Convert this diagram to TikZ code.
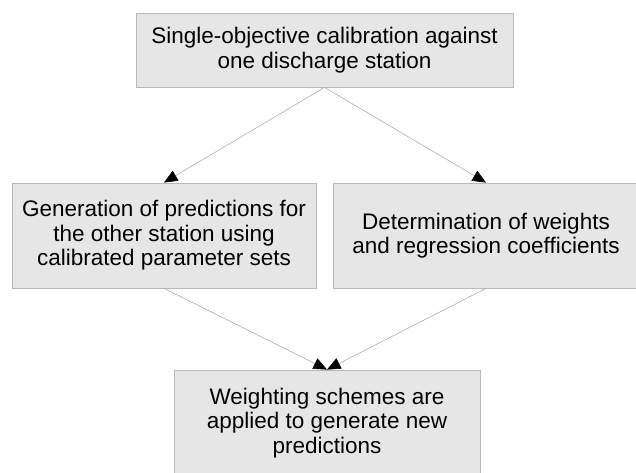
\documentclass[tikz,border=0pt]{standalone}
\usepackage{fontspec}
\setmainfont{Liberation Sans}
\usetikzlibrary{arrows.meta}
\definecolor{boxfill}{RGB}{230,230,230}
\definecolor{boxline}{RGB}{185,185,185}
\definecolor{arrline}{RGB}{175,175,175}
\tikzset{
  procbox/.style={draw=boxline, line width=0.8bp, fill=boxfill, inner sep=0pt,
    align=center, font=\fontsize{22.5bp}{24.5bp}\selectfont},
  conn/.style={draw=arrline, line width=0.6bp,
    -{Triangle[length=13.5bp,width=11.5bp,fill=black,color=black]}}
}
\begin{document}
\begin{tikzpicture}[x=1bp,y=1bp]
\useasboundingbox (0,0) rectangle (636,-473);
\clip (0,0) rectangle (636,-473);
\node[procbox, minimum width=377bp, minimum height=74bp] (top) at (324.5,-50)
  {Single-objective calibration against\\one discharge station};
\node[procbox, minimum width=304bp, minimum height=105bp] (left) at (164,-235.5)
  {Generation of predictions for\\the other station using\\calibrated parameter sets};
\node[procbox, minimum width=306bp, minimum height=105bp] (right) at (486,-235.5)
  {Determination of weights\\and regression coefficients};
\node[procbox, minimum width=306bp, minimum height=106bp] (bot) at (327,-423)
  {Weighting schemes are\\applied to generate new\\predictions};
\draw[conn] (top.south) -- (left.north);
\draw[conn] (top.south) -- (right.north);
\draw[conn] (left.south) -- (bot.north);
\draw[conn] (right.south) -- (bot.north);
\end{tikzpicture}
\end{document}
